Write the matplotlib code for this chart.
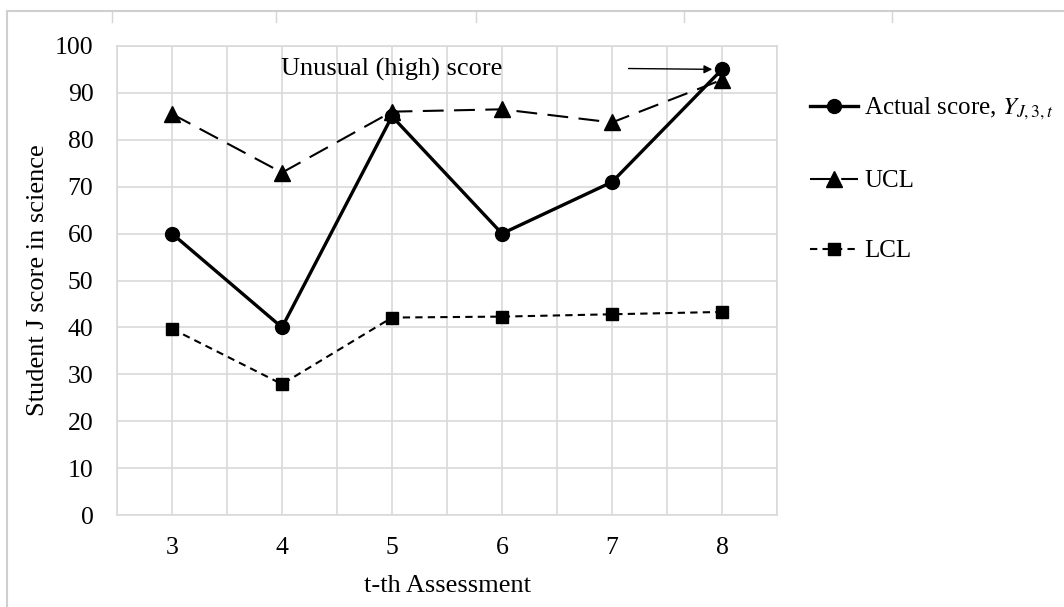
import matplotlib
matplotlib.use("Agg")
import matplotlib.pyplot as plt
from matplotlib.lines import Line2D

plt.rcParams["font.family"] = ["Liberation Serif", "DejaVu Serif"]
plt.rcParams["mathtext.fontset"] = "stix"

# Assessment number and scores
assessments = [3, 4, 5, 6, 7, 8]
actual_score = [60, 40, 85, 60, 71, 95]
ucl = [85.5, 73.0, 86.0, 86.5, 83.7, 92.8]
lcl = [39.7, 27.9, 42.1, 42.3, 42.8, 43.3]
y_ticks = list(range(0, 101, 10))

W, H = 1064, 607
fig = plt.figure(figsize=(W / 100, H / 100), dpi=100)

def px(x, y):
    return x / W, 1 - y / H

# Light outer frame with small divider marks along its top edge
frame = plt.Rectangle(px(7, 620), (W + 20) / W, (620 - 11) / H,
                      transform=fig.transFigure, fill=False,
                      edgecolor="#cfcfcf", linewidth=1.5)
fig.patches.append(frame)
for xm in [112, 276, 476, 684, 892]:
    fig.add_artist(Line2D([xm / W, xm / W], [1 - 12 / H, 1 - 22 / H],
                          transform=fig.transFigure, color="#d5d5d5", lw=1))

left, right, top, bottom = 117, 777, 46, 515
ax = fig.add_axes([left / W, 1 - bottom / H, (right - left) / W, (bottom - top) / H])

grid_c = "#d9d9d9"
ax.set_xlim(2.5, 8.5)
ax.set_ylim(0, 100)
for v in [2.5 + 0.5 * i for i in range(13)]:
    ax.axvline(v, color=grid_c, lw=1.2, zorder=0)
for v in y_ticks:
    ax.axhline(v, color=grid_c, lw=1.2, zorder=0)
for s in ax.spines.values():
    s.set_color(grid_c)
    s.set_linewidth(1.2)

ax.set_xticks(assessments)
ax.set_yticks(y_ticks)
ax.tick_params(length=0, labelsize=18.5)
ax.tick_params(axis="x", pad=16)
ax.tick_params(axis="y", pad=17)

ax.plot(assessments, actual_score, color="black", lw=2.4, marker="o",
        markersize=10, label=r"Actual score, $Y_{J,3,t}$", zorder=4)
ax.plot(assessments, ucl, color="black", lw=1.5, marker="^",
        markersize=11, dashes=(10, 5), label="UCL", zorder=3)
ax.plot(assessments, lcl, color="black", lw=1.5, marker="s",
        markersize=9, dashes=(3.5, 2.5), label="LCL", zorder=3)

ax.set_xlabel("t-th Assessment", fontsize=19, labelpad=11)
ax.set_ylabel("Student J score in science", fontsize=19, labelpad=4)

ax.text(5.0, 95, "Unusual (high) score", fontsize=19, ha="center",
        va="center", zorder=5)
ax.annotate("", xy=(8, 95), xytext=(7.15, 95.2),
            arrowprops=dict(arrowstyle="-|>", color="black", lw=1,
                            shrinkA=0, shrinkB=7, mutation_scale=12),
            zorder=5)

ax.legend(loc="upper left", bbox_to_anchor=(810 / W, 1 - 96 / H),
          bbox_transform=fig.transFigure, frameon=False, fontsize=18,
          handlelength=1.9, handletextpad=0.28, labelspacing=1.9,
          borderpad=0, borderaxespad=0)

fig.savefig("out.png", dpi=100)
